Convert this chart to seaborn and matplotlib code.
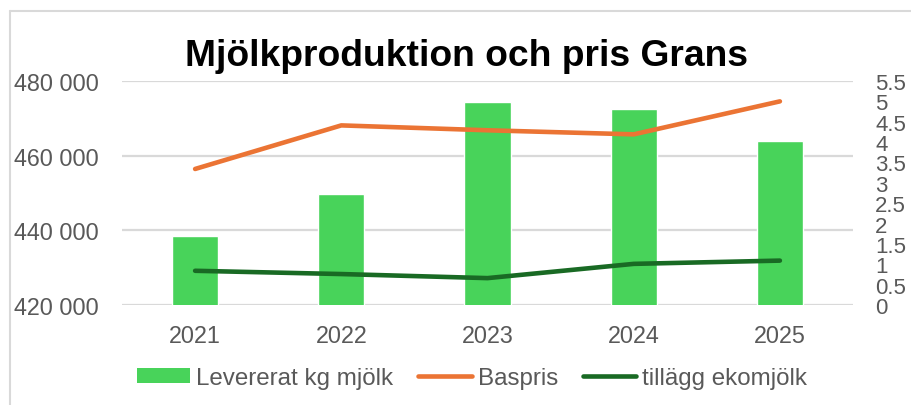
import matplotlib
matplotlib.use("Agg")
import matplotlib.pyplot as plt
import matplotlib.ticker as mticker
from matplotlib.lines import Line2D
from matplotlib.patches import Patch
import seaborn as sns
import pandas as pd

# Data
years = ["2021", "2022", "2023", "2024", "2025"]
levererat_kg = [438500, 449800, 474400, 472500, 464000]
baspris = [3.34, 4.41, 4.29, 4.19, 5.00]
tillagg_eko = [0.84, 0.76, 0.66, 1.01, 1.09]

BAR_GREEN = "#48d35a"
ORANGE = "#eb7434"
DARK_GREEN = "#196a24"
GRID = "#d9d9d9"
TEXT = "#595959"

sns.set_theme(style="white")
plt.rcParams["font.family"] = ["Liberation Sans", "DejaVu Sans"]

df = pd.DataFrame({"year": years, "kg": levererat_kg,
                   "baspris": baspris, "eko": tillagg_eko})

fig = plt.figure(figsize=(9.12, 4.06), dpi=100)
ax = fig.add_axes([122 / 912, 1 - 306 / 406, (853 - 122) / 912, (306 - 82) / 406])

sns.barplot(data=df, x="year", y="kg", color=BAR_GREEN, saturation=1,
            width=0.315, ax=ax, zorder=2)
ax.set_ylim(420000, 480000)
ax.set_xlim(-0.5, 4.5)
ax.yaxis.set_major_locator(mticker.MultipleLocator(20000))
ax.yaxis.set_major_formatter(mticker.FuncFormatter(
    lambda v, p: f"{int(v):,}".replace(",", " ")))
ax.grid(axis="y", color=GRID, linewidth=1.6, zorder=0)
ax.set_axisbelow(True)
ax.set_xlabel("")
ax.set_ylabel("")
for s in ax.spines.values():
    s.set_visible(False)
ax.tick_params(axis="y", length=0, pad=16.5, labelsize=16.8, labelcolor=TEXT)
ax.tick_params(axis="x", length=0, pad=13.5, labelsize=16.8, labelcolor=TEXT)

ax2 = ax.twinx()
sns.lineplot(data=df, x="year", y="baspris", color=ORANGE, linewidth=3.3,
             sort=False, ax=ax2, solid_capstyle="round", zorder=3)
sns.lineplot(data=df, x="year", y="eko", color=DARK_GREEN, linewidth=3.3,
             sort=False, ax=ax2, solid_capstyle="round", zorder=3)
ax2.set_ylim(0, 5.5)
ax2.set_xlim(-0.5, 4.5)
ax2.yaxis.set_major_locator(mticker.MultipleLocator(0.5))
ax2.yaxis.set_major_formatter(mticker.FuncFormatter(
    lambda v, p: f"{v:g}"))
ax2.set_ylabel("")
ax2.grid(False)
for s in ax2.spines.values():
    s.set_visible(False)
ax2.tick_params(axis="y", length=0, pad=16, labelsize=16, labelcolor=TEXT)

fig.text(467 / 912, 1 - 66 / 406, "Mjölkproduktion och pris Grans",
         ha="center", va="baseline", fontsize=26.8, fontweight="bold",
         color="black")

handles = [
    Patch(facecolor=BAR_GREEN, edgecolor="none"),
    Line2D([0], [0], color=ORANGE, linewidth=3.3, solid_capstyle="round"),
    Line2D([0], [0], color=DARK_GREEN, linewidth=3.3, solid_capstyle="round"),
]
labels = ["Levererat kg mjölk", "Baspris", "tillägg ekomjölk"]
fig.legend(handles, labels, loc="center", ncol=3, frameon=False,
           bbox_to_anchor=(472 / 912, 1 - 379 / 406),
           fontsize=17.4, labelcolor=TEXT, handlelength=2.2,
           handleheight=0.55, handletextpad=0.25, columnspacing=1.05,
           borderpad=0)

# Chart frame
fig.add_artist(Line2D([10 / 912, 10 / 912], [0, 1 - 12 / 406],
                      transform=fig.transFigure, color=GRID, linewidth=1.5))
fig.add_artist(Line2D([10 / 912, 1], [1 - 12 / 406, 1 - 12 / 406],
                      transform=fig.transFigure, color=GRID, linewidth=1.5))

fig.savefig("out.png", dpi=100, facecolor="white")
